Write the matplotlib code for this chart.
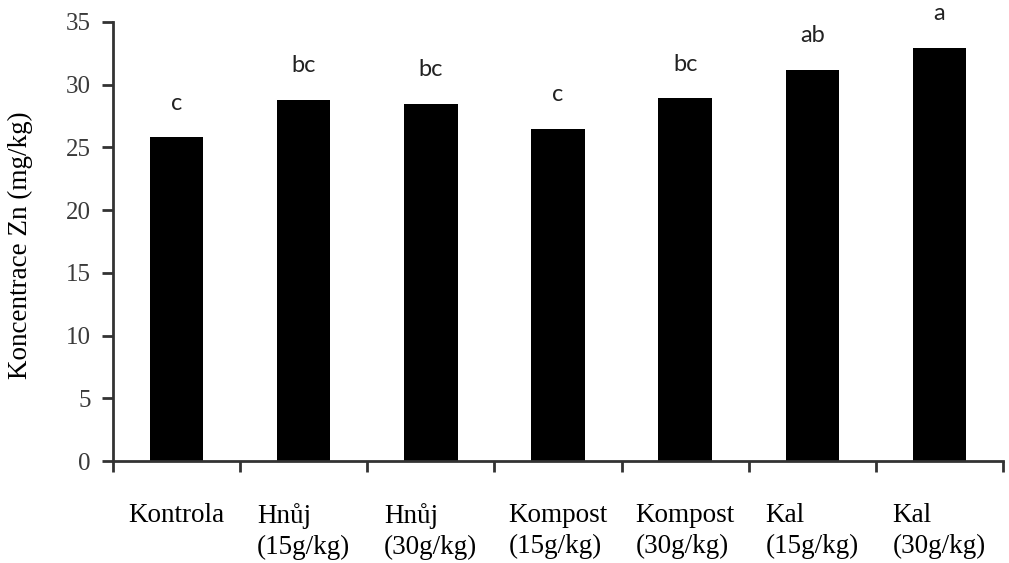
import matplotlib

matplotlib.use("Agg")
import matplotlib.pyplot as plt

# data
categories = [
    "Kontrola",
    "Hnůj\n(15g/kg)",
    "Hnůj\n(30g/kg)",
    "Kompost\n(15g/kg)",
    "Kompost\n(30g/kg)",
    "Kal\n(15g/kg)",
    "Kal\n(30g/kg)",
]
zn_values = [25.8, 28.8, 28.5, 26.5, 28.9, 31.2, 32.9]
letters = ["c", "bc", "bc", "c", "bc", "ab", "a"]
y_ticks = [0, 5, 10, 15, 20, 25, 30, 35]

AXIS_COLOR = "#333333"
SERIF = ["Liberation Serif", "DejaVu Serif"]

fig = plt.figure(figsize=(10.09, 5.63), dpi=100, facecolor="white")
ax = fig.add_axes([0.112, 0.181, 0.882, 0.78])

x = list(range(len(categories)))
ax.bar(x, zn_values, width=0.42, color="black")

for xi, val, letter in zip(x, zn_values, letters):
    ax.text(xi, val + 1.9, letter, ha="center", va="bottom", fontsize=17,
            family=["Lato", "DejaVu Sans"], color="#222222", clip_on=False)

ax.set_xlim(-0.5, len(categories) - 0.5)
ax.set_ylim(0, 35)
ax.set_yticks(y_ticks)
ax.set_yticklabels([str(t) for t in y_ticks], family=SERIF, fontsize=18, color="#3a3a3a")

# category labels between boundary ticks
ax.set_xticks(x)
ax.set_xticklabels(categories, family=SERIF, fontsize=19.5, va="top",
                   multialignment="left", linespacing=1.3)
ax.tick_params(axis="x", which="major", length=0, pad=30)
ax.set_xticks([i - 0.5 for i in range(len(categories) + 1)], minor=True)
ax.tick_params(axis="x", which="minor", length=8, width=2, color=AXIS_COLOR, direction="out")
ax.tick_params(axis="y", length=8, width=2, color=AXIS_COLOR, direction="out", pad=8)

for side in ("top", "right"):
    ax.spines[side].set_visible(False)
for side in ("left", "bottom"):
    ax.spines[side].set_color(AXIS_COLOR)
    ax.spines[side].set_linewidth(2)

fig.text(20 / 1009, 1 - 245 / 563, "Koncentrace Zn (mg/kg)", rotation=90,
         ha="center", va="center", family=SERIF, fontsize=19.5, color="black")

fig.savefig("out.png", dpi=100, facecolor="white")
